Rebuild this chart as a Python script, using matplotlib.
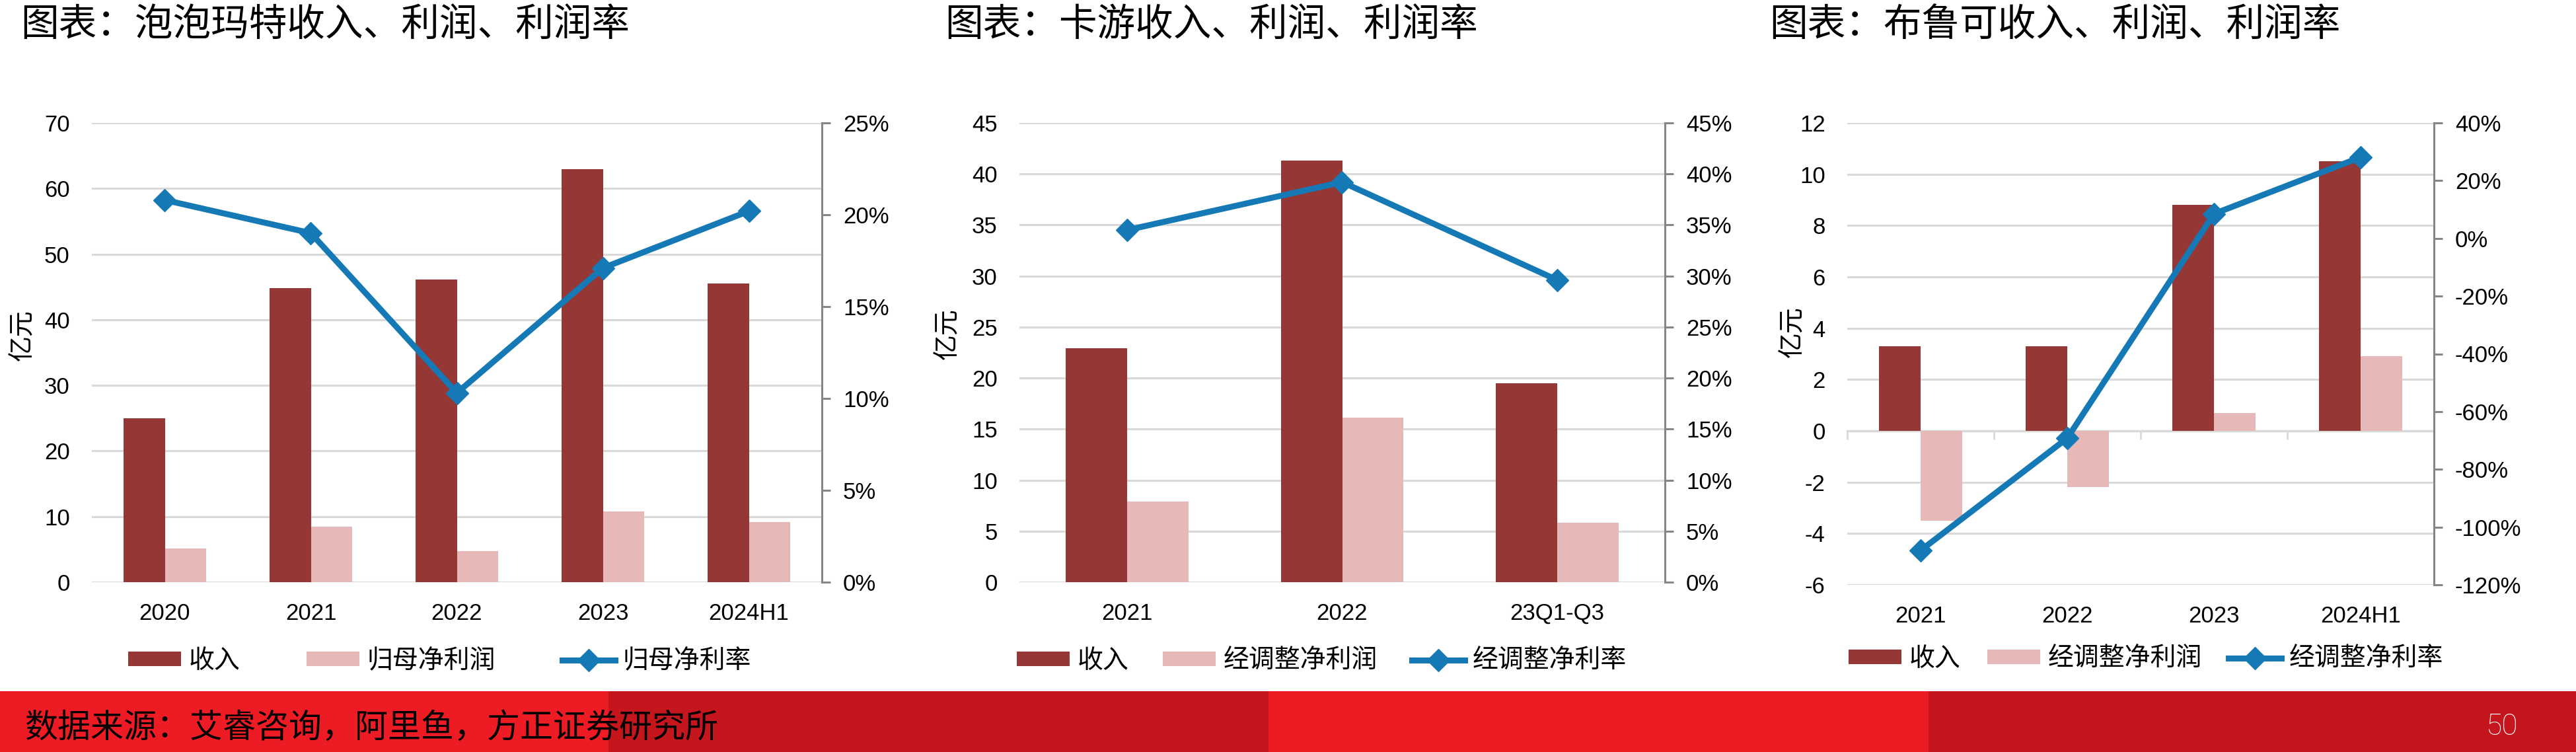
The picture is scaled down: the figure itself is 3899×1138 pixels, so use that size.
import matplotlib
matplotlib.use('Agg')
import matplotlib.pyplot as plt
from matplotlib.patches import Rectangle
from matplotlib.ticker import MultipleLocator, PercentFormatter
import numpy as np

plt.rcParams['font.family'] = ['Liberation Sans', 'Noto Sans CJK SC', 'DejaVu Sans']
plt.rcParams['axes.unicode_minus'] = False
CJK = ['Noto Sans CJK SC', 'DejaVu Sans']

# 泡泡玛特
cats_pop = ['2020', '2021', '2022', '2023', '2024H1']
rev_pop = [25.0, 44.8, 46.1, 62.9, 45.5]
np_pop = [5.1, 8.5, 4.7, 10.8, 9.2]
margin_pop = [20.8, 19.0, 10.3, 17.1, 20.2]

# 卡游
cats_ky = ['2021', '2022', '23Q1-Q3']
rev_ky = [22.9, 41.3, 19.5]
np_ky = [7.9, 16.1, 5.8]
margin_ky = [34.5, 39.2, 29.6]

# 布鲁可
cats_bl = ['2021', '2022', '2023', '2024H1']
rev_bl = [3.3, 3.3, 8.8, 10.5]
np_bl = [-3.5, -2.2, 0.7, 2.9]
margin_bl = [-108.1, -69.2, 8.5, 28.1]

C_REV = '#953735'
C_PROF = '#E6B9B8'
C_LINE = '#1479B4'
C_GRID = '#D9D9D9'
C_SPINE = '#868686'

fig = plt.figure(figsize=(38.99, 11.38), dpi=100)


def draw_panel(rect, cats, rev, prof, margin, ylim, ystep, rlim, rstep, ylab_xy, labels, leg_xy, colsp):
    ax = fig.add_axes(rect)
    x = np.arange(len(cats))
    w = 0.285
    b1 = ax.bar(x - w / 2, rev, w, color=C_REV, zorder=2)
    b2 = ax.bar(x + w / 2, prof, w, color=C_PROF, zorder=2)
    ax.set_xlim(-0.5, len(cats) - 0.5)
    ax.set_ylim(*ylim)
    ax.yaxis.set_major_locator(MultipleLocator(ystep))
    ax.grid(axis='y', color=C_GRID, lw=2.2)
    ax.set_axisbelow(True)
    for s in ax.spines.values():
        s.set_visible(False)
    ax.tick_params(axis='y', length=0, pad=24, labelsize=25)
    ax.set_xticks(x, cats)
    ax.tick_params(axis='x', length=0, pad=22, labelsize=25)
    ax.set_ylabel('亿元', family=CJK, fontsize=28)
    ax.yaxis.set_label_coords(*ylab_xy)

    # 负值时0轴带刻度线
    if ylim[0] < 0:
        pos0 = (0 - ylim[0]) / (ylim[1] - ylim[0])
        sec = ax.secondary_xaxis(pos0)
        sec.set_xticks(np.arange(len(cats) + 1) - 0.5, [''] * (len(cats) + 1))
        sec.tick_params(length=9, width=2, color=C_GRID, direction='out')
        sec.spines['bottom'].set_color(C_GRID)
        sec.spines['bottom'].set_linewidth(2.5)

    ax2 = ax.twinx()
    ln, = ax2.plot(x, np.array(margin) / 100, color=C_LINE, lw=6.5,
                   marker='D', ms=17, zorder=3)
    ax2.set_ylim(*rlim)
    ax2.yaxis.set_major_locator(MultipleLocator(rstep))
    ax2.yaxis.set_major_formatter(PercentFormatter(xmax=1, decimals=0))
    for k in ['top', 'left', 'bottom']:
        ax2.spines[k].set_visible(False)
    ax2.spines['right'].set_color(C_SPINE)
    ax2.spines['right'].set_linewidth(2.2)
    ax2.tick_params(axis='y', length=9, width=2.2, color=C_SPINE,
                    direction='out', pad=14, labelsize=25)

    fig.legend([b1, b2, ln], labels, loc='center left', bbox_to_anchor=leg_xy,
               ncol=3, frameon=False, prop={'family': CJK, 'size': 28},
               handlelength=2.05, handleheight=0.5, handletextpad=0.3,
               columnspacing=colsp, borderpad=0, borderaxespad=0)
    return ax


W, H = 3899, 1138


def rect_px(x0, x1, y0, y1):
    return [x0 / W, 1 - y1 / H, (x1 - x0) / W, (y1 - y0) / H]


draw_panel(rect_px(139, 1244, 186, 881), cats_pop, rev_pop, np_pop, margin_pop,
           (0, 70), 10, (0, 0.25), 0.05, (-0.077, 0.538),
           ['收入', '归母净利润', '归母净利率'], (194 / W, 1 - 1000 / H), 2.6)
draw_panel(rect_px(1543, 2520, 186, 881), cats_ky, rev_ky, np_ky, margin_ky,
           (0, 45), 5, (0, 0.45), 0.05, (-0.091, 0.541),
           ['收入', '经调整净利润', '经调整净利率'], (1539 / W, 1 - 1000 / H), 1.34)
draw_panel(rect_px(2796, 3684, 186, 885), cats_bl, rev_bl, np_bl, margin_bl,
           (-6, 12), 2, (-1.2, 0.4), 0.2, (-0.071, 0.548),
           ['收入', '经调整净利润', '经调整净利率'], (2798 / W, 1 - 997 / H), 1.05)

# 标题
titles = ['图表：泡泡玛特收入、利润、利润率', '图表：卡游收入、利润、利润率', '图表：布鲁可收入、利润、利润率']
title_x = [31, 1430, 2678]
for t, tx in zip(titles, title_x):
    fig.text(tx / W, 1 - 38 / H, t, family=CJK, fontsize=41.5, va='center', ha='left')

# 底部色条
band_h = (H - 1046) / H
band_edges = [0, 921, 1920, 2919, 3899]
band_cols = ['#ED1C24', '#C4161C', '#ED1C24', '#C4161C']
for i in range(4):
    fig.add_artist(Rectangle((band_edges[i] / W, 0), (band_edges[i + 1] - band_edges[i]) / W, band_h,
                             transform=fig.transFigure, color=band_cols[i], lw=0))

fig.text(37 / W, 1 - 1102 / H, '数据来源：艾睿咨询，阿里鱼，方正证券研究所', family=CJK,
         fontsize=36, style='italic', va='center', ha='left', color='black')
fig.text(3786 / W, 1 - 1100 / H, '50', family=['Roboto', 'DejaVu Sans'], fontweight='light',
         fontsize=32, va='center', ha='center', color='white')

fig.savefig('out.png', dpi=100, facecolor='white')
